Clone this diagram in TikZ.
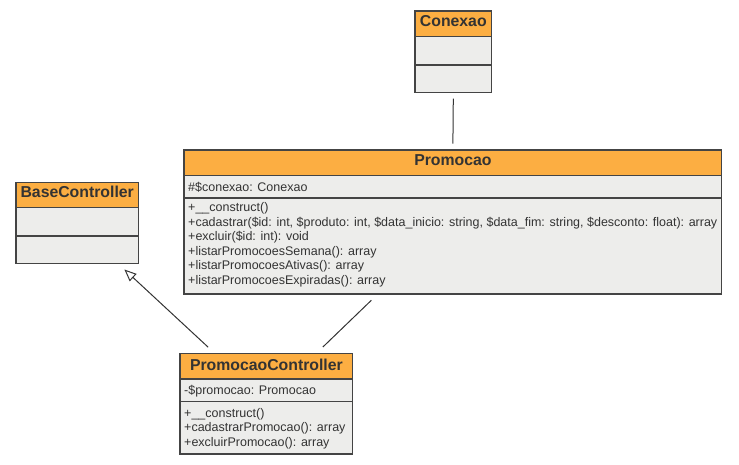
\documentclass[tikz,border=0pt]{standalone}
\usepackage{fontspec}
\setmainfont{Liberation Sans}
\usetikzlibrary{arrows.meta}
\definecolor{hdr}{HTML}{FCAE42}
\definecolor{bodyc}{HTML}{EDEDEB}
\definecolor{edgec}{HTML}{444444}
\definecolor{txt}{HTML}{333333}
\definecolor{linkc}{HTML}{333333}
\tikzset{
  boxbg/.style={fill=bodyc, draw=none, inner sep=0pt, outer sep=0pt, anchor=north west},
  hdrfill/.style={fill=hdr},
  sep/.style={draw=edgec, line width=1.1pt},
  frame/.style={draw=edgec, line width=1.3pt},
  title/.style={font=\fontsize{15.8}{18}\selectfont\bfseries, text=txt, anchor=base, inner sep=0pt},
  member/.style={font=\fontsize{12.5}{14.5}\selectfont, text=txt, anchor=base west, inner sep=0pt},
  link/.style={draw=linkc, line width=1pt},
  inherit/.style={link, -{Triangle[open, length=12pt, width=10pt, fill=white]}}
}
\begin{document}
\begin{tikzpicture}[x=1pt, y=-1pt]
\useasboundingbox (0,0) rectangle (739,464);

% ---- Conexao
\node[boxbg, minimum width=76.7pt, minimum height=81.7pt] (conexao) at (415,11) {};
\fill[hdrfill] (415,11) rectangle (491.7,36.7);
\draw[sep] (415,36.7) -- (491.7,36.7);
\draw[sep] (415,65) -- (491.7,65);
\draw[frame] (conexao.north west) rectangle (conexao.south east);
\node[title] (conexaoT) at (453.3,26.5) {Conexao};

% ---- Promocao
\node[boxbg, minimum width=537.7pt, minimum height=144pt] (promocao) at (184,150) {};
\fill[hdrfill] (184,150) rectangle (721.7,175.7);
\draw[sep] (184,175.7) -- (721.7,175.7);
\draw[sep] (184,198) -- (721.7,198);
\draw[frame] (promocao.north west) rectangle (promocao.south east);
\node[title] (promocaoT) at (452.9,165.7) {Promocao};
\node[member] (pa1) at (188,191) {\#\$conexao: Conexao};
\node[member] (pm1) at (188,211.7) {+\_\_construct()};
\node[member] (pm2) at (188,226.2) {+cadastrar(\$id: int, \$produto: int, \$data\_inicio: string, \$data\_fim: string, \$desconto: float): array};
\node[member] (pm3) at (188,240.7) {+excluir(\$id: int): void};
\node[member] (pm4) at (188,255.2) {+listarPromocoesSemana(): array};
\node[member] (pm5) at (188,269.7) {+listarPromocoesAtivas(): array};
\node[member] (pm6) at (188,284.2) {+listarPromocoesExpiradas(): array};

% ---- BaseController
\node[boxbg, minimum width=122.3pt, minimum height=81.4pt] (base) at (16,182.3) {};
\fill[hdrfill] (16,182.3) rectangle (138.3,207.7);
\draw[sep] (16,207.7) -- (138.3,207.7);
\draw[sep] (16,236) -- (138.3,236);
\draw[frame] (base.north west) rectangle (base.south east);
\node[title] (baseT) at (77.2,197.7) {BaseController};

% ---- PromocaoController
\node[boxbg, minimum width=172.7pt, minimum height=100.7pt] (ctrl) at (180,353.3) {};
\fill[hdrfill] (180,353.3) rectangle (352.7,379);
\draw[sep] (180,379) -- (352.7,379);
\draw[sep] (180,401.7) -- (352.7,401.7);
\draw[frame] (ctrl.north west) rectangle (ctrl.south east);
\node[title] (ctrlT) at (266.4,370.7) {PromocaoController};
\node[member] (ca1) at (184,394) {-\$promocao: Promocao};
\node[member] (cm1) at (184,417.3) {+\_\_construct()};
\node[member] (cm2) at (184,431.8) {+cadastrarPromocao(): array};
\node[member] (cm3) at (184,446.3) {+excluirPromocao(): array};

% ---- connectors
\draw[link, shorten <=6pt, shorten >=6.5pt] (conexao.south) -- (promocao.north);
\draw[link, shorten <=9pt, shorten >=9pt] ([xshift=-75pt]promocao.south) -- ([xshift=50pt]ctrl.north);
\draw[inherit, shorten <=9pt, shorten >=8.5pt] ([xshift=-51.6pt]ctrl.north) -- ([xshift=41pt]base.south);
\end{tikzpicture}
\end{document}
